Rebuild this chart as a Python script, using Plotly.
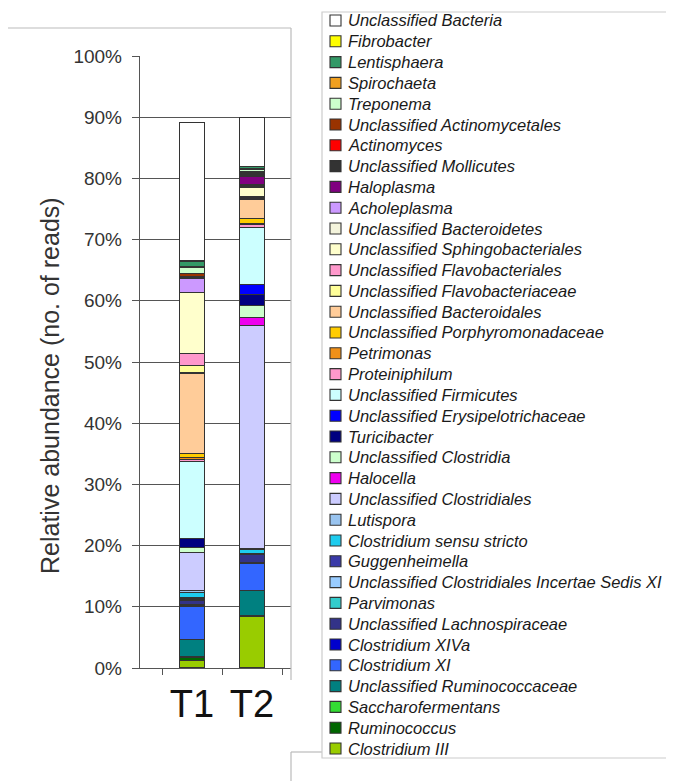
import plotly.graph_objects as go

# ---------------- data (stack order: bottom -> top) ----------------
samples = ["T1", "T2"]
sample_pos = [1, 2]

taxa = [
    "Clostridium III", "Ruminococcus", "Saccharofermentans",
    "Unclassified Ruminococcaceae", "Clostridium XI", "Clostridium XIVa",
    "Unclassified Lachnospiraceae", "Parvimonas",
    "Unclassified Clostridiales Incertae Sedis XI", "Guggenheimella",
    "Clostridium sensu stricto", "Lutispora", "Unclassified Clostridiales",
    "Halocella", "Unclassified Clostridia", "Turicibacter",
    "Unclassified Erysipelotrichaceae", "Unclassified Firmicutes",
    "Proteiniphilum", "Petrimonas", "Unclassified Porphyromonadaceae",
    "Unclassified Bacteroidales", "Unclassified Flavobacteriaceae",
    "Unclassified Flavobacteriales", "Unclassified Sphingobacteriales",
    "Unclassified Bacteroidetes", "Acholeplasma", "Haloplasma",
    "Unclassified Mollicutes", "Actinomyces", "Unclassified Actinomycetales",
    "Treponema", "Spirochaeta", "Lentisphaera", "Fibrobacter",
    "Unclassified Bacteria",
]

t1_values = [1.2, 0.5, 0.1, 2.9, 5.3, 0.3, 0.8, 0.1, 0.1, 0.2, 0.9, 0.2, 6.2,
             0.0, 0.9, 1.4, 0.1, 12.5, 0.4, 0.3, 0.6, 13.2, 1.3, 1.9, 9.9,
             0.0, 2.4, 0.1, 0.2, 0.0, 0.5, 1.0, 0.1, 0.9, 0.0, 22.7]

t2_values = [8.5, 0.0, 0.0, 4.2, 4.4, 0.2, 1.3, 0.0, 0.0, 0.1, 0.7, 0.1, 36.5,
             1.3, 2.0, 1.7, 1.6, 9.4, 0.4, 0.3, 0.8, 3.0, 0.3, 0.2, 1.6,
             0.2, 0.2, 1.3, 0.5, 0.1, 0.3, 0.3, 0.1, 0.4, 0.0, 8.0]

colors = ["#99CC00", "#006600", "#33DD33", "#008080", "#3366FF", "#0000CC",
          "#333388", "#33CCCC", "#99CCFF", "#3A3AA8", "#1ECCEE", "#99C4F0",
          "#CCCCFF", "#EE00EE", "#CCFFCC", "#000080", "#0000FF", "#CCFFFF",
          "#FF99CC", "#F09018", "#FFCC00", "#FFCC99", "#FFFF99", "#FF99CC",
          "#FFFFCC", "#F4F4DC", "#CC99FF", "#800080", "#333333", "#FF0000",
          "#993300", "#CCFFCC", "#F0A020", "#339966", "#FFFF00", "#FFFFFF"]

y_ticks = [0, 10, 20, 30, 40, 50, 60, 70, 80, 90, 100]
y_tick_text = [f"{v}%" for v in y_ticks]
y_title = "Relative abundance (no. of reads)"

# ---------------- layout geometry (pixels, page coordinates) ----------------
OFF = 8                      # default page body margin
W, H = 674 - OFF, 781 - OFF
PL, PR, PT, PB = 140, 291, 56, 668   # plot area edges in page pixels


def px_x(px):
    return (px - PL) / (PR - PL)


def px_y(py):
    return (PB - py) / (PB - PT)


fig = go.Figure()
for name, col, a, b in zip(taxa, colors, t1_values, t2_values):
    fig.add_trace(go.Bar(
        x=sample_pos, y=[a, b], name=name, width=0.42,
        marker=dict(color=col, line=dict(color="#333333", width=1.1)),
        showlegend=False,
    ))

fig.update_layout(
    width=W, height=H, autosize=False,
    barmode="stack",
    plot_bgcolor="white", paper_bgcolor="white",
    margin=dict(l=PL - OFF, r=674 - PR, t=PT - OFF, b=781 - PB, pad=0),
    font=dict(family="Liberation Sans, Arial, sans-serif", color="#333333"),
    showlegend=False,
)

fig.update_yaxes(
    range=[0, 100], tickvals=y_ticks, ticktext=y_tick_text,
    showgrid=True, gridcolor="#555555", gridwidth=1.4,
    showline=True, linecolor="#555555", linewidth=1.4,
    ticks="outside", ticklen=7, tickcolor="#555555", tickwidth=1.2,
    ticklabelstandoff=6,
    tickfont=dict(size=19, color="#333333"),
    zeroline=False,
)

fig.update_xaxes(
    range=[0.133, 2.65], tickvals=sample_pos, ticktext=samples,
    ticks="", showgrid=False,
    showline=True, linecolor="#555555", linewidth=1.4,
    tickfont=dict(size=38, color="#111111"),
    ticklabelstandoff=2,
    minor=dict(tickvals=[0.5, 1.5, 2.5], ticks="outside", ticklen=6,
               tickcolor="#555555", tickwidth=1.2, showgrid=False),
    zeroline=False,
)

shapes = []
# light frame lines of the figure panel
shapes.append(dict(type="line", xref="paper", yref="paper",
                   x0=px_x(8), x1=px_x(291), y0=px_y(28), y1=px_y(28),
                   line=dict(color="#BBBBBB", width=1.2)))
shapes.append(dict(type="line", xref="paper", yref="paper",
                   x0=px_x(291), x1=px_x(291), y0=px_y(28), y1=px_y(680),
                   line=dict(color="#BBBBBB", width=1.2)))
shapes.append(dict(type="line", xref="paper", yref="paper",
                   x0=px_x(291), x1=px_x(291), y0=px_y(752), y1=px_y(781),
                   line=dict(color="#BBBBBB", width=1.2)))
shapes.append(dict(type="line", xref="paper", yref="paper",
                   x0=px_x(291), x1=px_x(322), y0=px_y(752), y1=px_y(752),
                   line=dict(color="#BBBBBB", width=1.2)))
# legend box
shapes.append(dict(type="rect", xref="paper", yref="paper",
                   x0=px_x(322), x1=px_x(690), y0=px_y(758), y1=px_y(12),
                   line=dict(color="#CCCCCC", width=1.2),
                   fillcolor="rgba(0,0,0,0)"))

annotations = [dict(xref="paper", yref="paper", x=px_x(50), y=px_y(386),
                    xanchor="center", yanchor="middle", textangle=-90,
                    text=y_title, showarrow=False,
                    font=dict(size=25, color="#333333",
                              family="Liberation Sans, Arial, sans-serif"))]
legend_names = list(reversed(taxa))
legend_colors = list(reversed(colors))
for i, (nm, col) in enumerate(zip(legend_names, legend_colors)):
    cy = 20.5 + i * 20.8
    shapes.append(dict(type="rect", xref="paper", yref="paper",
                       x0=px_x(330), x1=px_x(341),
                       y0=px_y(cy + 5.5), y1=px_y(cy - 5.5),
                       line=dict(color="#333333", width=1.1),
                       fillcolor=col))
    annotations.append(dict(xref="paper", yref="paper",
                            x=px_x(346), y=px_y(cy),
                            xanchor="left", yanchor="middle",
                            text="<i>" + nm + "</i>", showarrow=False,
                            font=dict(size=16.5, color="#1A1A1A",
                                      family="Liberation Sans, Arial, sans-serif")))

fig.update_layout(shapes=shapes, annotations=annotations)

fig.write_html("out.html")
